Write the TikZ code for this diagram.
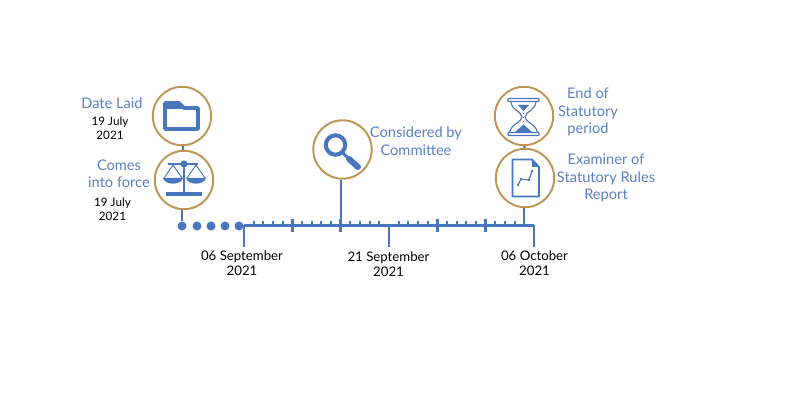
\documentclass[tikz,border=0pt]{standalone}
\usepackage{fontspec}
\setmainfont{Lato}
\definecolor{lineblue}{HTML}{4A76BE}
\definecolor{textblue}{HTML}{5A80C4}
\definecolor{ringgold}{HTML}{BD9555}
\tikzset{
  ring/.style={draw=ringgold, line width=1.4pt, circle, minimum size=1.46cm, inner sep=0pt},
  stem/.style={draw=lineblue, line width=1.7pt},
  dot/.style={fill=lineblue, circle, minimum size=0.225cm, inner sep=0pt},
  title/.style={text=textblue, align=center, font=\fontsize{10.4}{12.4}\selectfont},
  daysmall/.style={text=black, align=center, font=\fontsize{8.3}{10}\selectfont},
  daylabel/.style={text=black, align=center, font=\fontsize{9.4}{10.8}\selectfont}
}
\begin{document}
\begin{tikzpicture}[x=0.025cm, y=-0.025cm]
  \useasboundingbox (0, 0) rectangle (790, 400);

  % Timeline
  \coordinate (start) at (244, 225.5);
  \coordinate (finish) at (534, 225.5);
  \draw [stem] (start) -- (finish);
  \foreach \i in {0, ..., 5} {
    \foreach \j in {1, ..., 4} {
      \draw [lineblue, line width=1.5pt] (244 + 48.33 * \i + 9.67 * \j, 221) -- ++(0, 4.5);
    }
  }
  \foreach \i in {1, 2, 4, 5} {
    \draw [lineblue, line width=2pt] (244 + 48.33 * \i, 219) -- ++(0, 13);
  }
  \draw [stem] (start) -- ++(0, 22);
  \draw [stem] (389, 225.5) -- ++(0, 22);
  \draw [stem] (finish) -- ++(0, 22);

  % Dots
  \foreach \name/\x in {dota/182, dotb/197, dotc/211, dotd/225, dote/239} {
    \node [dot] (\name) at (\x, 226) {};
  }

  % Rings
  \node [ring] (folder) at (182, 116) {};
  \node [ring] (scales) at (184, 180) {};
  \node [ring] (lens) at (342.5, 149.5) {};
  \node [ring] (glass) at (524, 116) {};
  \node [ring] (report) at (525, 178) {};

  % Connectors
  \coordinate (lensfoot) at (341, 225.5);
  \coordinate (reportfoot) at (524, 225.5);
  \draw [stem] (folder) -- (scales);
  \draw [stem] (dota |- scales.south) -- (dota);
  \draw [stem] (glass) -- (report);
  \draw [stem] (lensfoot |- lens.south) -- (lensfoot);
  \draw [stem] (reportfoot |- report.south) -- (reportfoot);

  % Folder
  \draw [lineblue, line width=2.6pt, line join=round, fill=white]
    (165, 128) -- (165, 103) -- (179, 103) -- (184, 108) -- (198, 108) -- (198, 129) -- (165, 129) -- cycle;
  \fill [lineblue] (164, 103) rectangle (180, 109) (180, 104) -- (185, 109) -- (180, 109) -- cycle;

  % Scales
  \draw [lineblue, line width=1.6pt] (168, 164) -- (198, 164);
  \draw [lineblue, line width=2pt] (184, 164) -- (184, 193);
  \fill [lineblue] (184, 164) circle [radius=3.5];
  \fill [lineblue] (166, 192) rectangle (202, 196);
  \draw [lineblue, line width=0.7pt] (164, 178) -- (173, 165) -- (182, 178);
  \draw [lineblue, line width=0.7pt] (187, 178) -- (196, 165) -- (205, 178);
  \fill [lineblue] (163, 178) .. controls (165, 185.5) and (181, 185.5) .. (183, 178) -- cycle;
  \fill [lineblue] (186, 178) .. controls (188, 185.5) and (204, 185.5) .. (206, 178) -- cycle;

  % Magnifier
  \draw [lineblue, line width=2.9pt] (335.5, 145) circle [radius=9.7];
  \draw [lineblue, line width=2.2pt] (342, 152) -- (350, 160);
  \draw [lineblue, line width=4.3pt, line cap=round] (349, 159) -- (358, 167);

  % Hourglass
  \draw [lineblue, line width=0.8pt, fill=white, rounded corners=0.5pt] (508, 98.5) rectangle (539, 101.5);
  \draw [lineblue, line width=0.8pt, fill=white, rounded corners=0.5pt] (508, 132.5) rectangle (539, 135.5);
  \draw [lineblue, line width=0.8pt] (511, 101.5) .. controls (511, 110) and (522, 112) .. (522, 117) .. controls (522, 122) and (511, 124) .. (509.5, 132.5);
  \draw [lineblue, line width=0.8pt] (536, 101.5) .. controls (536, 110) and (525, 112) .. (525, 117) .. controls (525, 122) and (536, 124) .. (537.5, 132.5);
  \fill [lineblue] (518, 105) -- (529, 105) -- (523.5, 111) -- cycle;
  \fill [lineblue] (514.5, 132.5) -- (532.5, 132.5) -- (523.5, 124.5) -- cycle;
  \draw [lineblue, line width=0.7pt, dotted] (523.5, 113) -- (523.5, 124);

  % Report
  \draw [lineblue, line width=1.3pt, line join=round]
    (512.5, 159.5) -- (532, 159.5) -- (539, 167) -- (539, 196.5) -- (512.5, 196.5) -- cycle;
  \fill [lineblue] (532, 159) -- (539.5, 167) -- (532, 167) -- cycle;
  \draw [lineblue, line width=0.8pt] (518, 185) -- (521, 179) -- (529, 180) -- (532, 171);
  \foreach \x/\y in {518/185, 521/179, 529/180, 532/171} {
    \fill [lineblue] (\x, \y) circle [radius=1.3];
  }

  % Titles
  \node [title] (laidtext) at (112, 103) {Date Laid};
  \node [title] (forcetext) at (119, 173.5) {Comes\\into force};
  \node [title] (committeetext) at (416, 141) {Considered by\\Committee};
  \node [title] (endtext) at (588, 112) {End of\\Statutory\\period};
  \node [title] (examinertext) at (606, 178) {Examiner of\\Statutory Rules\\Report};

  % Dates
  \node [daysmall] (laiddate) at (110, 128) {19 July\\2021};
  \node [daysmall] (forcedate) at (112.5, 209) {19 July\\2021};
  \node [daylabel] (daya) at (242, 263) {06 September\\2021};
  \node [daylabel] (dayb) at (388.5, 264) {21 September\\2021};
  \node [daylabel] (dayc) at (534.5, 263) {06 October\\2021};
\end{tikzpicture}
\end{document}
